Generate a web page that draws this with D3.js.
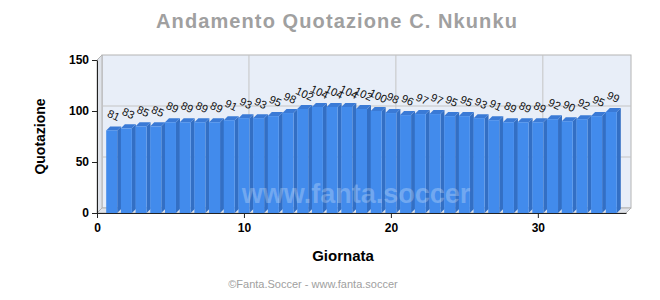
<!DOCTYPE html>
<html>
<head>
<meta charset="utf-8">
<script src="https://cdn.jsdelivr.net/npm/d3@7"></script>
<style>
  body { margin: 0; background: #fff; }
  text { font-family: Arial, "Liberation Sans", sans-serif; }
</style>
</head>
<body>
<div id="viz"></div>
<script>
var giornate = [];
for (var g = 1; g <= 35; g++) giornate.push(g);
var quotazioni = [81, 83, 85, 85, 89, 89, 89, 89, 91, 93, 93, 95, 98, 102, 104, 104, 104, 102,
                  100, 98, 96, 97, 97, 95, 95, 93, 91, 89, 89, 89, 92, 90, 92, 95, 99];
var xTicks = [0, 10, 20, 30];
var yTicks = [0, 50, 100, 150];

var width = 660, height = 300;
var margin = { top: 60, left: 97, right: 34, bottom: 87 };
var dx = 5, dy = -5;   // depth of the 3d box

var svg = d3.select("#viz").append("svg")
  .attr("width", width)
  .attr("height", height);

var x = d3.scaleLinear().domain([0, 36]).range([margin.left, width - margin.right]);
var y = d3.scaleLinear().domain([0, 150]).range([height - margin.bottom, margin.top]);

var x0 = x(0), x1 = x(36), y0 = y(0), y1 = y(150);

// walls and floor
svg.append("rect")
  .attr("x", x0 + dx).attr("y", y1 + dy)
  .attr("width", x1 - x0).attr("height", y0 - y1)
  .attr("fill", "#e8eef8").attr("stroke", "#b4b4b4");

svg.append("polygon")
  .attr("points", [[x0, y1], [x0 + dx, y1 + dy], [x0 + dx, y0 + dy], [x0, y0]].join(" "))
  .attr("fill", "#dfe3ea").attr("stroke", "#b4b4b4");

svg.append("polygon")
  .attr("points", [[x0, y0], [x0 + dx, y0 + dy], [x1 + dx, y0 + dy], [x1, y0]].join(" "))
  .attr("fill", "#dfe3ea").attr("stroke", "#b4b4b4");

// grid on the back wall
svg.selectAll(".hgrid").data([50, 100]).enter().append("line")
  .attr("x1", x0 + dx).attr("x2", x1 + dx)
  .attr("y1", function(d){ return y(d) + dy; })
  .attr("y2", function(d){ return y(d) + dy; })
  .attr("stroke", "#c4c4c4");

svg.selectAll(".vgrid").data([10, 20, 30]).enter().append("line")
  .attr("x1", function(d){ return x(d) + dx; })
  .attr("x2", function(d){ return x(d) + dx; })
  .attr("y1", y1 + dy).attr("y2", y0 + dy)
  .attr("stroke", "#c4c4c4");

// bars
var bw = 11, bd = 4;
var data = giornate.map(function(d, i){ return { g: d, v: quotazioni[i] }; });

var bars = svg.selectAll(".bar").data(data).enter().append("g").attr("class", "bar");

bars.append("polygon")
  .attr("points", function(d){
    var l = x(d.g) + bw / 2, t = y(d.v);
    return [[l, t], [l + bd, t - bd], [l + bd, y0 - bd], [l, y0]].join(" ");
  })
  .attr("fill", "#336fc4");

bars.append("polygon")
  .attr("points", function(d){
    var l = x(d.g) - bw / 2, r = x(d.g) + bw / 2, t = y(d.v);
    return [[l, t], [l + bd, t - bd], [r + bd, t - bd], [r, t]].join(" ");
  })
  .attr("fill", "#3a7ad6");

bars.append("rect")
  .attr("x", function(d){ return x(d.g) - bw / 2; })
  .attr("y", function(d){ return y(d.v); })
  .attr("width", bw)
  .attr("height", function(d){ return y0 - y(d.v); })
  .attr("fill", "#428bec");

// watermark over the bars
svg.append("text")
  .attr("x", 356).attr("y", 203)
  .attr("text-anchor", "middle")
  .style("font-size", "27px").style("font-weight", "bold")
  .attr("fill", "#ffffff").attr("fill-opacity", 0.25)
  .text("www.fanta.soccer");

// value labels
svg.selectAll(".lbl").data(data).enter().append("text")
  .attr("transform", function(d){
    return "translate(" + (x(d.g) + 2) + "," + (y(d.v) - 15) + ")rotate(25)";
  })
  .attr("text-anchor", "middle")
  .attr("dy", "0.35em")
  .style("font-size", "11px")
  .attr("fill", "#111")
  .text(function(d){ return d.v; });

// axes
var xAxis = svg.append("g")
  .attr("transform", "translate(0," + y0 + ")")
  .call(d3.axisBottom(x).tickValues(xTicks).tickSize(5).tickSizeOuter(0));
var yAxis = svg.append("g")
  .attr("transform", "translate(" + x0 + ",0)")
  .call(d3.axisLeft(y).tickValues(yTicks).tickSize(5).tickSizeOuter(0));

[xAxis, yAxis].forEach(function(a){
  a.select(".domain").attr("stroke", "#222");
  a.selectAll(".tick line").attr("stroke", "#222");
  a.selectAll(".tick text")
    .style("font-size", "12px").style("font-weight", "bold")
    .style("font-family", "Arial, 'Liberation Sans', sans-serif")
    .attr("fill", "#000");
});
xAxis.selectAll(".tick text").attr("dy", "0.9em");

// titles
svg.append("text")
  .attr("x", 337).attr("y", 28)
  .attr("text-anchor", "middle")
  .style("font-size", "20px").style("font-weight", "bold")
  .style("letter-spacing", "1.1px")
  .attr("fill", "#a0a0a0")
  .text("Andamento Quotazione C. Nkunku");

svg.append("text")
  .attr("transform", "translate(45," + ((y0 + y1) / 2) + ")rotate(-90)")
  .attr("text-anchor", "middle")
  .style("font-size", "14px").style("font-weight", "bold")
  .attr("fill", "#000")
  .text("Quotazione");

svg.append("text")
  .attr("x", 343).attr("y", 261)
  .attr("text-anchor", "middle")
  .style("font-size", "15px").style("font-weight", "bold")
  .attr("fill", "#000")
  .text("Giornata");

svg.append("text")
  .attr("x", 313).attr("y", 288)
  .attr("text-anchor", "middle")
  .style("font-size", "11px")
  .attr("fill", "#a0a0a0")
  .text("©Fanta.Soccer - www.fanta.soccer");
</script>
</body>
</html>
